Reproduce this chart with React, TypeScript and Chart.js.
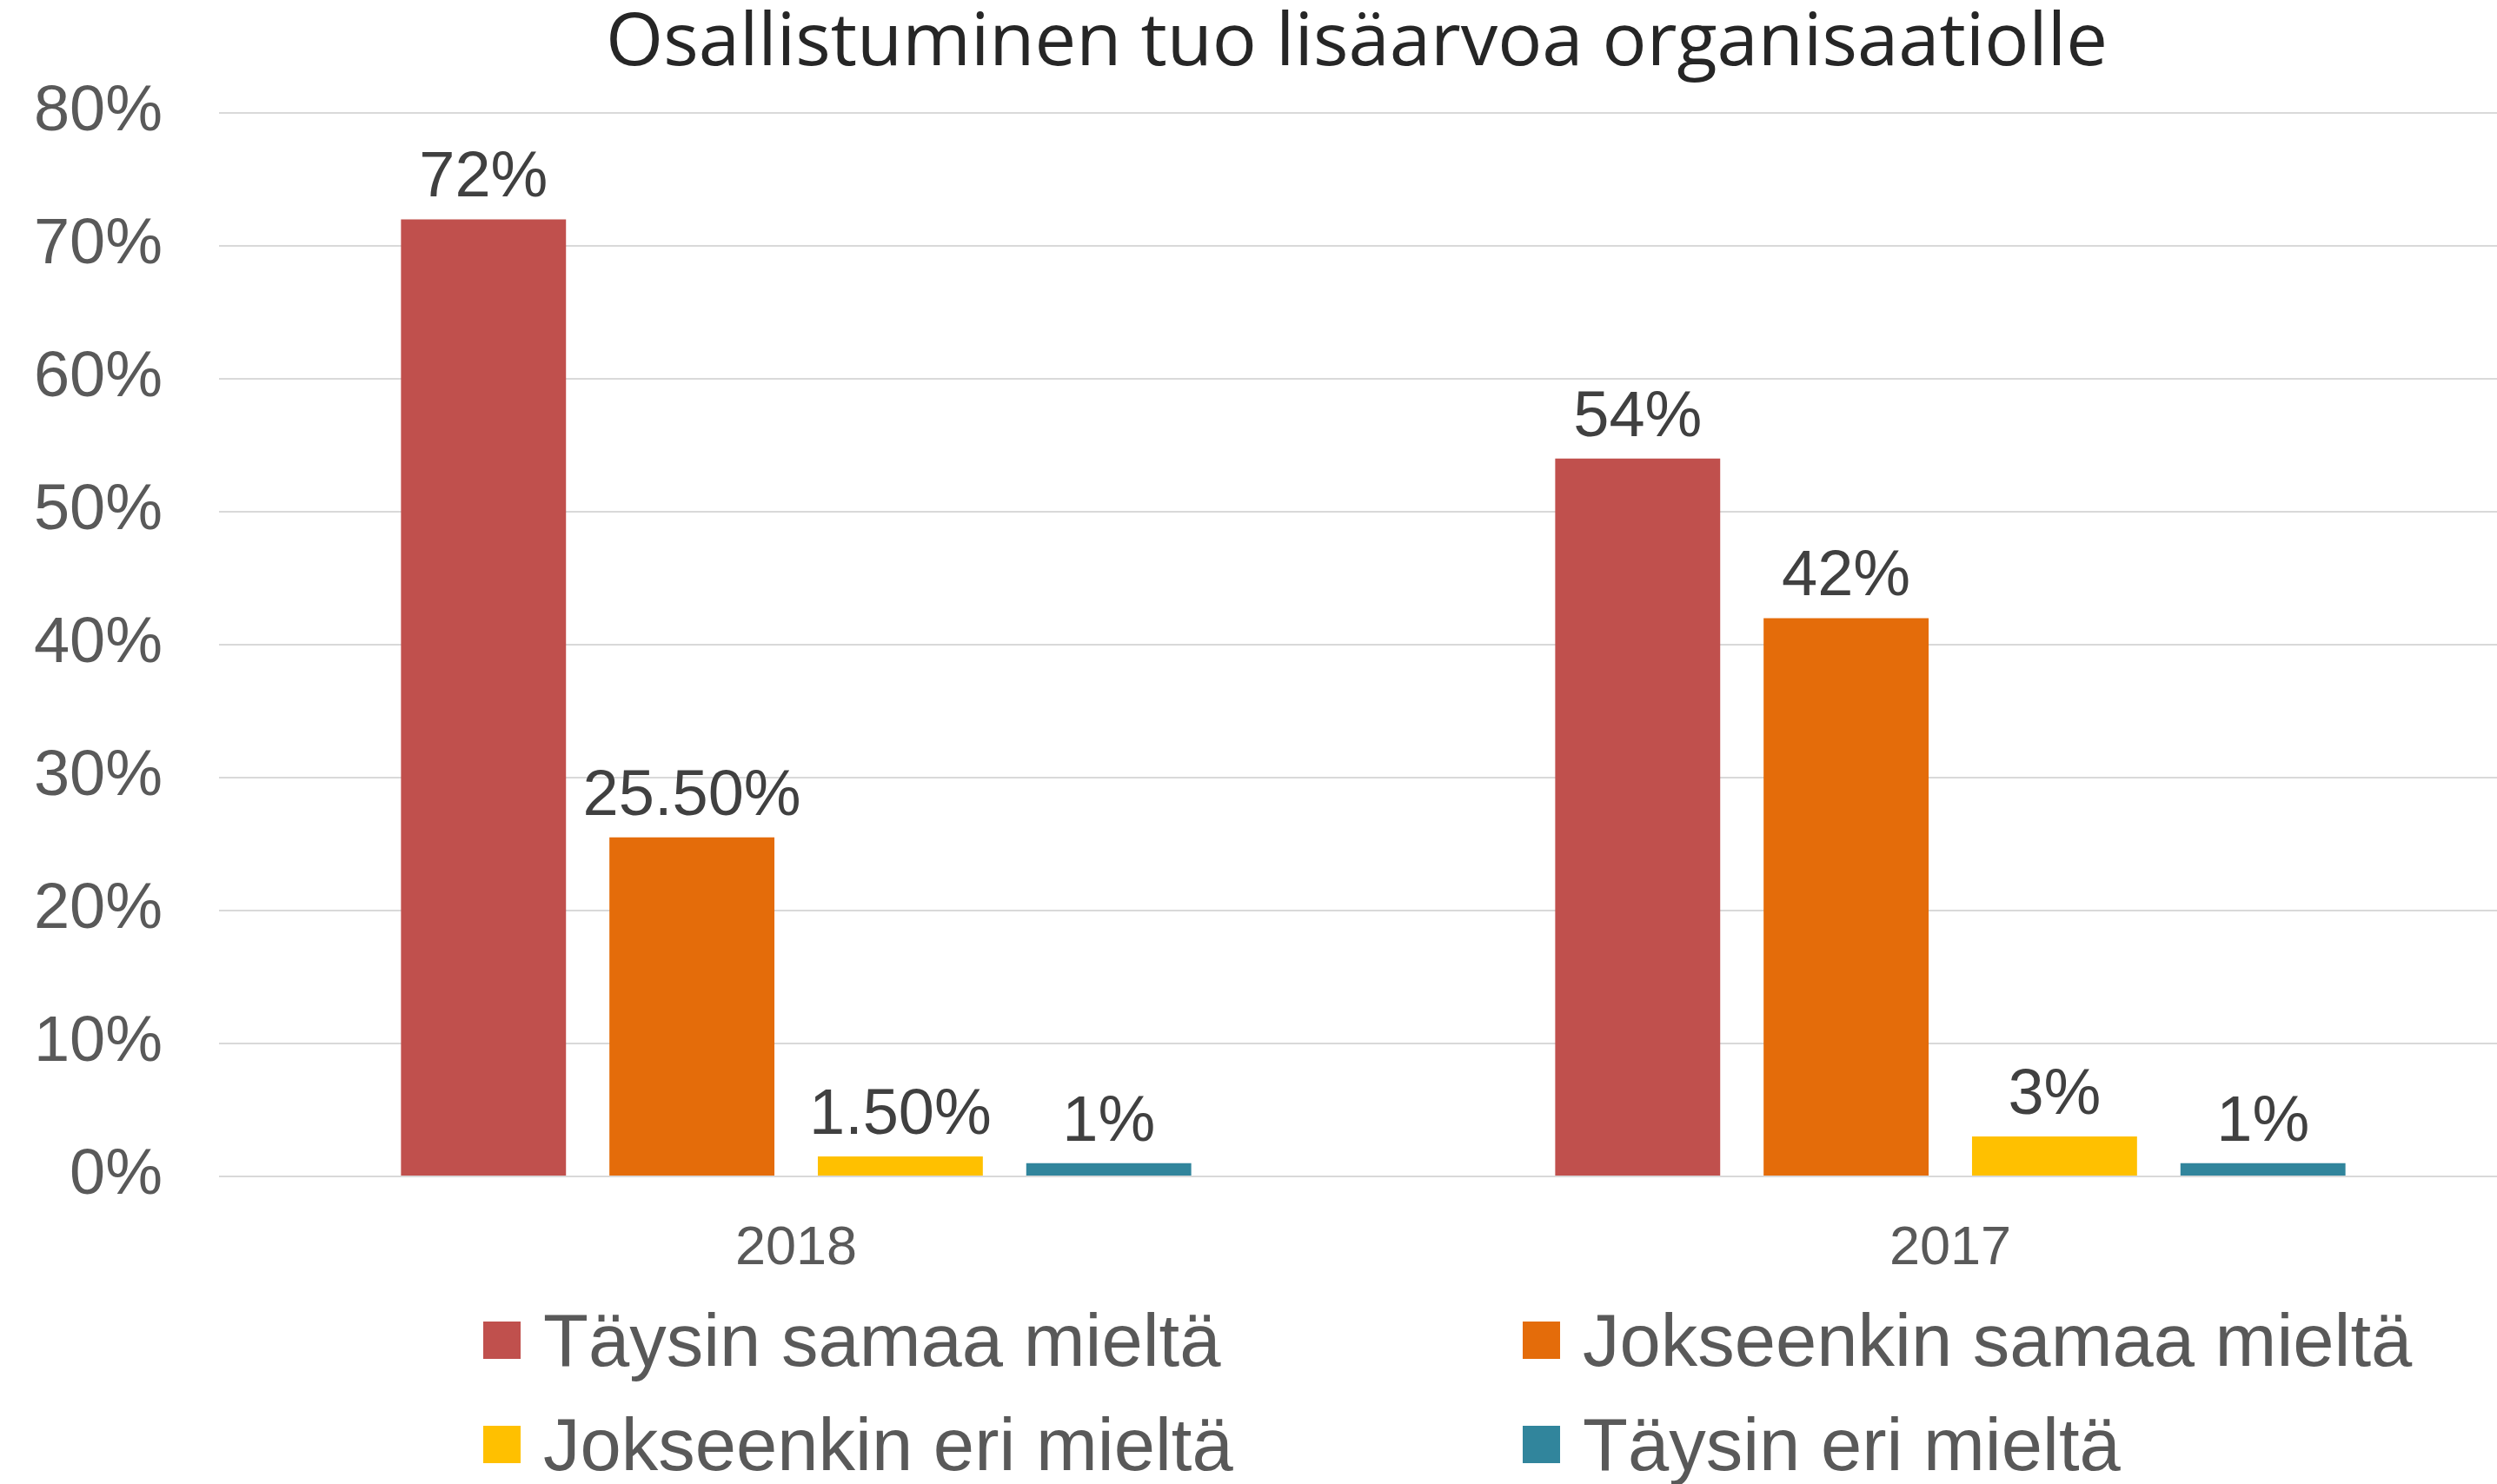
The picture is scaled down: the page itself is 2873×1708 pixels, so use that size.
import React, { useEffect, useRef } from "react";
import { Chart, registerables } from "chart.js";

Chart.register(...registerables);

const TITLE = "Osallistuminen tuo lisäarvoa organisaatiolle";
const categories = ["2018", "2017"];
const seriesNames = [
  "Täysin samaa mieltä",
  "Jokseenkin samaa mieltä",
  "Jokseenkin eri mieltä",
  "Täysin eri mieltä",
];
const taysinSamaa = [72, 54];
const jokseenkinSamaa = [25.5, 42];
const jokseenkinEri = [1.5, 3];
const taysinEri = [1, 1];
const seriesColors = ["#C0504D", "#E46C0A", "#FFC000", "#31859C"];
const yMin = 0;
const yMax = 80;
const yStep = 10;

const fmt = (v: number) => (Number.isInteger(v) ? `${v}%` : `${v.toFixed(2)}%`);

const dataLabelPlugin = {
  id: "dataLabels",
  afterDatasetsDraw(chart: any) {
    const ctx = chart.ctx;
    ctx.save();
    ctx.font = '74px "Liberation Sans", Arial, sans-serif';
    ctx.fillStyle = "#404040";
    ctx.textAlign = "center";
    ctx.textBaseline = "alphabetic";
    chart.data.datasets.forEach((ds: any, di: number) => {
      const meta = chart.getDatasetMeta(di);
      meta.data.forEach((el: any, i: number) => {
        ctx.fillText(fmt(ds.data[i]), el.x, el.y - 26);
      });
    });
    ctx.restore();
  },
};

const legendPlugin = {
  id: "gridLegend",
  afterDraw(chart: any) {
    const ctx = chart.ctx;
    const colX = [556, 1752];
    const rowTop = [1521, 1641];
    const box = 43;
    ctx.save();
    ctx.font = '85px "Liberation Sans", Arial, sans-serif';
    ctx.textAlign = "left";
    ctx.textBaseline = "alphabetic";
    chart.data.datasets.forEach((ds: any, i: number) => {
      const c = i % 2;
      const r = Math.floor(i / 2);
      ctx.fillStyle = ds.backgroundColor;
      ctx.fillRect(colX[c], rowTop[r], box, box);
      ctx.fillStyle = "#595959";
      ctx.fillText(ds.label, colX[c] + 69, rowTop[r] + 51);
    });
    ctx.restore();
  },
};

export default function App() {
  const ref = useRef<HTMLCanvasElement | null>(null);
  useEffect(() => {
    if (!ref.current) return;
    const values = [taysinSamaa, jokseenkinSamaa, jokseenkinEri, taysinEri];
    const chart = new Chart(ref.current, {
      type: "bar",
      data: {
        labels: categories,
        datasets: seriesNames.map((name, i) => ({
          label: name,
          data: values[i],
          backgroundColor: seriesColors[i],
          borderWidth: 0,
          categoryPercentage: 0.7223,
          barPercentage: 0.7917,
          yAxisID: "y",
        })),
      },
      options: {
        responsive: false,
        animation: false,
        devicePixelRatio: 1,
        layout: { padding: { left: 30, right: 0, top: 0, bottom: 240 } },
        plugins: {
          legend: { display: false },
          tooltip: { enabled: false },
          title: {
            display: true,
            text: TITLE,
            color: "#262626",
            font: { family: '"Open Sans", sans-serif', size: 85, weight: "normal", lineHeight: 1.2 },
            padding: { top: 0, bottom: 28 },
          },
        },
        scales: {
          x: {
            grid: { display: false },
            border: { display: false },
            ticks: {
              color: "#595959",
              font: { family: '"Liberation Sans", Arial, sans-serif', size: 63 },
              padding: 38,
            },
            afterFit: (s: any) => {
              s.height = 114;
            },
          },
          y: {
            position: "left",
            min: yMin,
            max: yMax,
            grid: { color: "#D9D9D9", lineWidth: 2, drawTicks: false },
            border: { display: false },
            ticks: {
              stepSize: yStep,
              color: "#595959",
              font: { family: '"Liberation Sans", Arial, sans-serif', size: 74 },
              padding: 65,
              callback: (v: any) => `${v}%`,
            },
            afterFit: (s: any) => {
              s.width = 222;
            },
          },
          yRight: {
            position: "right",
            display: true,
            grid: { display: false, drawTicks: false },
            border: { display: false },
            ticks: { display: false },
            afterFit: (s: any) => {
              s.width = 184;
            },
          },
        },
      },
      plugins: [dataLabelPlugin, legendPlugin],
    });
    return () => chart.destroy();
  }, []);
  return (
    <div
      style={{
        position: "fixed",
        left: 0,
        top: 0,
        width: 2873,
        height: 1708,
        overflow: "hidden",
        background: "#fff",
      }}
    >
      <canvas ref={ref} width={3092} height={1708} style={{ width: 3092, height: 1708, display: "block" }} />
    </div>
  );
}
